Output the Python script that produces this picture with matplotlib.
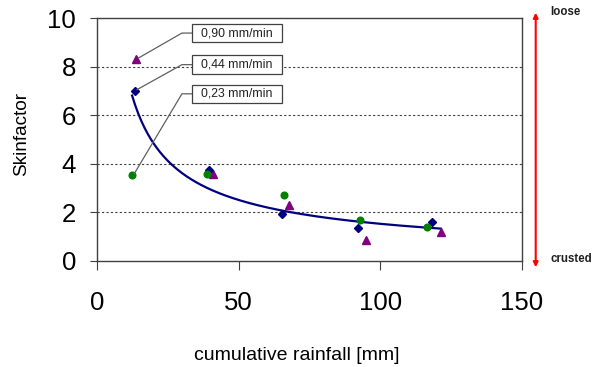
import numpy as np
import matplotlib
matplotlib.use("Agg")
import matplotlib.pyplot as plt
from matplotlib.patches import Rectangle

plt.rcParams['font.family'] = ['Liberation Sans', 'DejaVu Sans']

# ---- data ----
series_labels = ["0,90 mm/min", "0,44 mm/min", "0,23 mm/min"]
x_090 = [13.8, 40.9, 67.9, 95.0, 121.4]
y_090 = [8.3, 3.6, 2.31, 0.87, 1.19]
x_044 = [13.3, 39.6, 65.2, 92.3, 118.2]
y_044 = [7.0, 3.73, 1.93, 1.35, 1.62]
x_023 = [12.4, 38.7, 65.9, 92.9, 116.7]
y_023 = [3.55, 3.6, 2.73, 1.69, 1.39]
x_ticks = [0, 50, 100, 150]
y_ticks = [0, 2, 4, 6, 8, 10]

fig = plt.figure(figsize=(5.96, 3.67), dpi=100)
ax = fig.add_axes([97/596, 1-261/367, (521.7-97)/596, (261-18)/367])
ax.set_xlim(0, 150)
ax.set_ylim(0, 10)

# grid
for yv in y_ticks[1:-1]:
    ax.axhline(yv, color='#404040', lw=0.8, linestyle=(0, (2, 2)), zorder=1)

# power trendline fitted to all points
all_x = np.array(x_090 + x_044 + x_023)
all_y = np.array(y_090 + y_044 + y_023)
b, lna = np.polyfit(np.log(all_x), np.log(all_y), 1)
xc = np.linspace(all_x.min(), all_x.max(), 200)
ax.plot(xc, np.exp(lna) * xc ** b, color='#000080', lw=1.6, zorder=3)

# points
ax.plot(x_090, y_090, linestyle='none', marker='^', color='#800080', markersize=6, zorder=4)
ax.plot(x_044, y_044, linestyle='none', marker='D', color='#000080', markersize=4.2, zorder=4)
ax.plot(x_023, y_023, linestyle='none', marker='o', color='#008000', markersize=4.8, zorder=4)

# label boxes with leader lines
box_left, box_w, box_h = 33.6, 31.7, 0.76
box_cy = [9.38, 8.08, 6.88]
knee_x = 30.0
first_pts = [(x_090[0], y_090[0]), (x_044[0], y_044[0]), (x_023[0], y_023[0])]
for lab, cy, (px, py) in zip(series_labels, box_cy, first_pts):
    ax.plot([px + 0.8, knee_x, box_left], [py + 0.05, cy, cy], color='#606060', lw=0.9, zorder=5,
            clip_on=False)
    ax.add_patch(Rectangle((box_left, cy - box_h/2), box_w, box_h, facecolor='white',
                           edgecolor='#404040', lw=0.9, zorder=6, clip_on=False))
    ax.text(box_left + box_w/2, cy, lab, ha='center', va='center', fontsize=8.8,
            color='#202020', zorder=7)

# axes styling
for s in ax.spines.values():
    s.set_color('#404040')
    s.set_linewidth(1.0)
ax.set_xticks(x_ticks)
ax.set_yticks(y_ticks)
ax.tick_params(axis='x', length=6.5, width=0.8, pad=15, labelsize=18.5, color='#404040')
ax.tick_params(axis='y', length=5, width=0.8, pad=10, labelsize=18.5, color='#404040')

fig.text(297/596, 1-355/367, "cumulative rainfall [mm]", ha='center', va='center', fontsize=14)
fig.text(21.7/596, 1-134/367, "Skinfactor", ha='center', va='center', rotation=90, fontsize=13.7)

# red double arrow
ax.annotate('', xy=(1.033, 1.022), xytext=(1.033, -0.026), xycoords='axes fraction',
            textcoords='axes fraction',
            arrowprops=dict(arrowstyle='<|-|>', color='#ff0000', lw=1.5, mutation_scale=7,
                            shrinkA=0, shrinkB=0), annotation_clip=False)
ax.text(1.067, 1.023, "loose", transform=ax.transAxes, ha='left', va='center',
        fontsize=8.3, fontweight='bold', color='#202020', clip_on=False)
ax.text(1.067, 0.008, "crusted", transform=ax.transAxes, ha='left', va='center',
        fontsize=8.3, fontweight='bold', color='#202020', clip_on=False)

fig.savefig("out.png", dpi=100)
